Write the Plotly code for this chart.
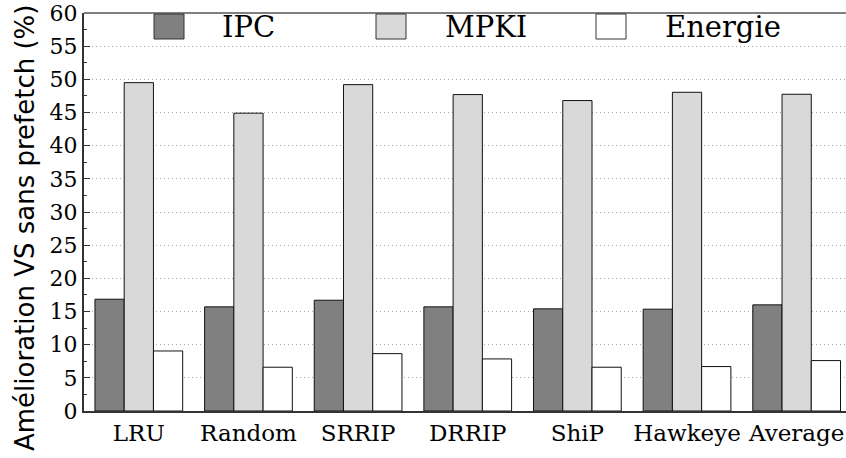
import plotly.graph_objects as go

categories = ["LRU", "Random", "SRRIP", "DRRIP", "ShiP", "Hawkeye", "Average"]
ipc = [16.85, 15.7, 16.7, 15.7, 15.4, 15.35, 16.0]
mpki = [49.5, 44.9, 49.2, 47.7, 46.8, 48.05, 47.75]
energie = [9.05, 6.6, 8.65, 7.85, 6.6, 6.7, 7.6]
series_names = ["IPC", "MPKI", "Energie"]
series_colors = ["#808080", "#d9d9d9", "#ffffff"]
y_ticks = list(range(0, 61, 5))
y_title = "Amélioration VS sans prefetch (%)"

FONT = "DejaVu Serif"
SANS = "DejaVu Sans"
W, H = 846, 458
ML, MT, MB, MR = 84, 13, 47, 0

fig = go.Figure()
for name, vals, col in zip(series_names, [ipc, mpki, energie], series_colors):
    fig.add_trace(go.Bar(
        x=categories, y=vals, name=name,
        marker=dict(color=col, line=dict(color="#111111", width=1)),
        showlegend=False,
    ))

fig.update_layout(
    width=W, height=H,
    margin=dict(l=ML, r=MR, t=MT, b=MB, pad=0),
    paper_bgcolor="white", plot_bgcolor="white",
    barmode="group", bargap=0.2, bargroupgap=0,
    font=dict(family=FONT, color="black", size=22),
)
fig.update_xaxes(
    range=[-0.5, 6.45], showline=True, linecolor="#333333", linewidth=2,
    ticks="", showgrid=False, tickfont=dict(size=23, family=FONT, color="black"),
)
fig.update_yaxes(
    range=[0, 60], tickvals=y_ticks, showline=True, linecolor="#333333", linewidth=2,
    ticks="inside", ticklen=6, tickcolor="#333333",
    minor=dict(dtick=2.5, ticks="inside", ticklen=3, tickcolor="#333333", showgrid=False),
    showgrid=True, gridcolor="#a8a8a8", griddash="1px,3px", gridwidth=1,
    zeroline=False, tickfont=dict(size=22, family=FONT, color="black"),
)

# top border
fig.add_shape(type="line", xref="paper", yref="paper", x0=0, x1=1, y0=1, y1=1,
              line=dict(color="#808080", width=2))

pw = W - ML - MR
ph = H - MT - MB
def px2x(px):
    return (px - ML) / pw
def py2y(py):
    return (H - MB - py) / ph

# y-axis title
fig.add_annotation(xref="paper", yref="paper", x=px2x(25), y=py2y(228),
                   xanchor="center", yanchor="middle", textangle=-90,
                   text=y_title, showarrow=False,
                   font=dict(size=26, family=SANS, color="black"))

# custom legend (boxes + text)
legend_box_x = [154, 376, 596]
legend_text_x = [220, 443, 663]
for name, col, bx, tx in zip(series_names, series_colors, legend_box_x, legend_text_x):
    fig.add_shape(type="rect", xref="paper", yref="paper",
                  x0=px2x(bx), x1=px2x(bx + 30), y0=py2y(39), y1=py2y(14),
                  fillcolor=col, line=dict(color="#333333", width=1))
    fig.add_annotation(xref="paper", yref="paper", x=px2x(tx), y=py2y(27),
                       xanchor="left", yanchor="middle", text=name, showarrow=False,
                       font=dict(size=29, family=FONT, color="black"))

fig.write_html("out.html")
